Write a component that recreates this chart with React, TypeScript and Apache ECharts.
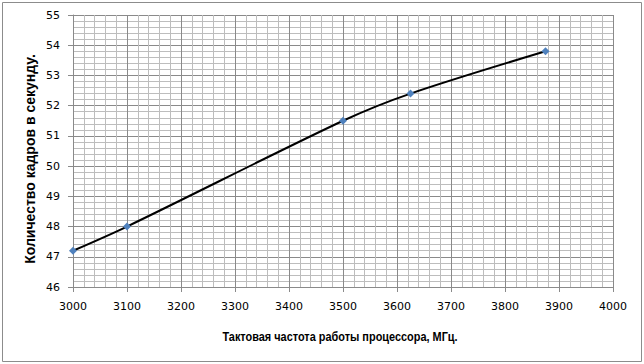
import React, { useEffect, useRef } from "react";
import * as echarts from "echarts";

const freqMHz = [3000, 3100, 3500, 3625, 3875];
const fps = [47.2, 48.0, 51.5, 52.4, 53.8];
const xTitle = "Тактовая частота работы процессора, МГц.";
const yTitle = "Количество кадров в секунду.";

export default function App() {
  const ref = useRef<HTMLDivElement>(null);
  useEffect(() => {
    const chart = echarts.init(ref.current!, null, { renderer: "svg" });
    const major = "#8a8a8a";
    const minor = "#bdbdbd";
    chart.setOption({
      animation: false,
      backgroundColor: "#ffffff",
      graphic: [
        {
          type: "rect",
          shape: { x: 2.5, y: 2.5, width: 639, height: 359 },
          style: { fill: "none", stroke: "#8c8c8c", lineWidth: 1 },
          silent: true,
          z: -1,
        },
        {
          type: "text",
          x: 340,
          y: 337,
          scaleX: 0.84,
          style: {
            text: xTitle,
            font: "bold 13px 'Liberation Sans', sans-serif",
            fill: "#000",
            align: "center",
            verticalAlign: "middle",
          },
        },
        {
          type: "text",
          x: 30,
          y: 159,
          rotation: Math.PI / 2,
          style: {
            text: yTitle,
            font: "bold 14px 'Liberation Sans', sans-serif",
            fill: "#000",
            align: "center",
            verticalAlign: "middle",
          },
        },
      ],
      grid: { left: 73, right: 31, top: 15, bottom: 77 },
      xAxis: {
        type: "value",
        min: 3000,
        max: 4000,
        interval: 100,
        axisLine: { show: true, lineStyle: { color: major, width: 1 } },
        axisTick: { show: true, length: 5, lineStyle: { color: major } },
        axisLabel: { fontFamily: "DejaVu Sans", fontSize: 11, color: "#000", margin: 14, formatter: (v: number) => String(v) },
        splitLine: { show: true, lineStyle: { color: major, width: 1 } },
        minorTick: { show: true, splitNumber: 5, length: 0 },
        minorSplitLine: { show: true, lineStyle: { color: minor, width: 1 } },
      },
      yAxis: {
        type: "value",
        min: 46,
        max: 55,
        interval: 1,
        axisLine: { show: true, lineStyle: { color: major, width: 1 } },
        axisTick: { show: true, length: 5, lineStyle: { color: major } },
        axisLabel: { fontFamily: "DejaVu Sans", fontSize: 11, color: "#000", margin: 13 },
        splitLine: { show: true, lineStyle: { color: major, width: 1 } },
        minorTick: { show: true, splitNumber: 5, length: 0 },
        minorSplitLine: { show: true, lineStyle: { color: minor, width: 1 } },
      },
      series: [
        {
          type: "line",
          data: freqMHz.map((x, i) => [x, fps[i]]),
          smooth: 0.3,
          symbol: "diamond",
          symbolSize: 8,
          itemStyle: { color: "#4f81bd" },
          lineStyle: { color: "#000", width: 2 },
        },
      ],
    });
    return () => chart.dispose();
  }, []);
  return <div ref={ref} style={{ width: 644, height: 364, position: "absolute", left: 0, top: 0 }} />;
}
